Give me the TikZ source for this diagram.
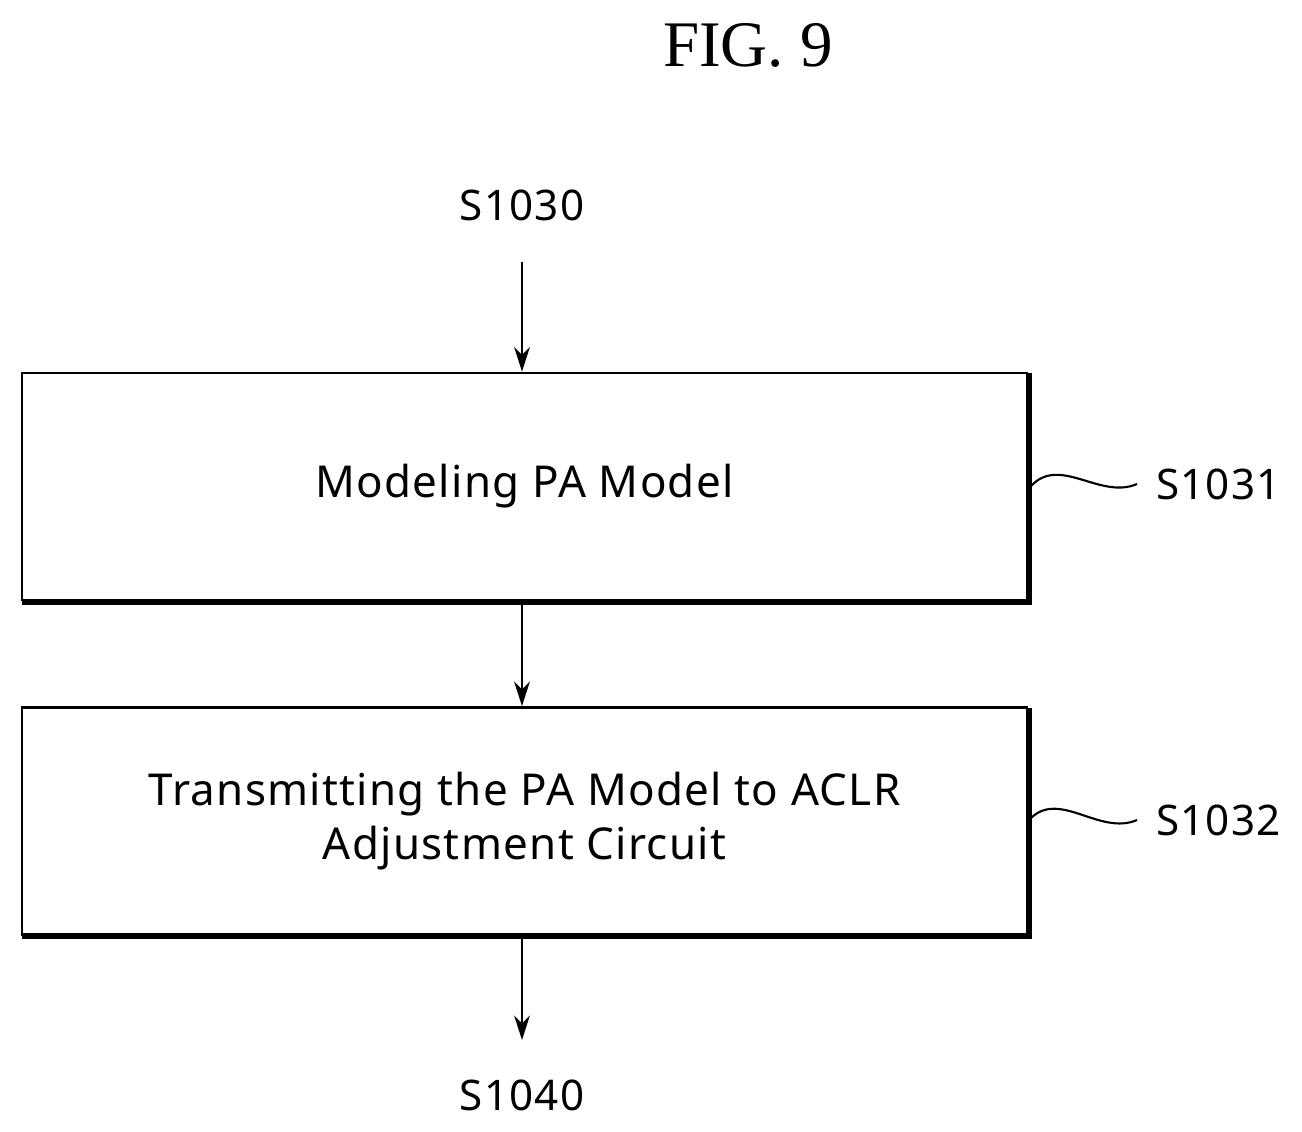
\documentclass[tikz,border=0pt]{standalone}
\usepackage{fontspec}
\setmainfont{Liberation Serif}
\newfontfamily\bodyfont{Noto Sans}[LetterSpace=3]
\usetikzlibrary{arrows.meta}
\begin{document}
\begin{tikzpicture}[x=0.02cm,y=-0.02cm,
  box/.style={draw,line width=1.6pt,minimum width=1005*0.02cm,minimum height=227*0.02cm,inner sep=0pt,align=center,font=\bodyfont\fontsize{25}{32}\selectfont},
  lbl/.style={font=\bodyfont\fontsize{24}{28}\selectfont},
  arr/.style={-{Stealth[length=14pt,width=9pt]},line width=1.2pt},
  wave/.style={line width=1.2pt}]
\useasboundingbox (0,0) rectangle (1302,1132);
\node[font=\fontsize{37}{42}\selectfont] (fig) at (748,45) {FIG. 9};
\node[lbl] (s1030) at (522,205) {S1030};
\node[box] (b1) at (524.5,486.5) {Modeling PA Model};
\node[box] (b2) at (524.5,821) {Transmitting the PA Model to ACLR\\[-1pt]Adjustment Circuit};
\node[lbl] (s1040) at (522,1095) {S1040};
\draw[line width=1.8pt] ([xshift=0.9pt,yshift=-1pt]b1.north east) -- ([xshift=0.9pt,yshift=-0.9pt]b1.south east) -- ([xshift=1pt,yshift=-0.9pt]b1.south west);
\draw[line width=1.8pt] ([xshift=0.9pt,yshift=-1pt]b2.north east) -- ([xshift=0.9pt,yshift=-0.9pt]b2.south east) -- ([xshift=1pt,yshift=-0.9pt]b2.south west);
\coordinate (t1) at (522,262);
\draw[arr] (t1) -- (b1.north -| t1);
\draw[arr] (b1.south -| t1) -- (b2.north -| t1);
\coordinate (t2) at (522,1040);
\draw[arr] (b2.south -| t1) -- (t2);
\node[lbl,anchor=west] (s1031) at (1150,484) {S1031};
\node[lbl,anchor=west] (s1032) at (1150,820) {S1032};
\draw[wave] (1031,486) .. controls (1060,455) and (1100,500) .. (1137,484);
\draw[wave] (1031,818) .. controls (1060,790) and (1100,836) .. (1137,820);
\end{tikzpicture}
\end{document}
